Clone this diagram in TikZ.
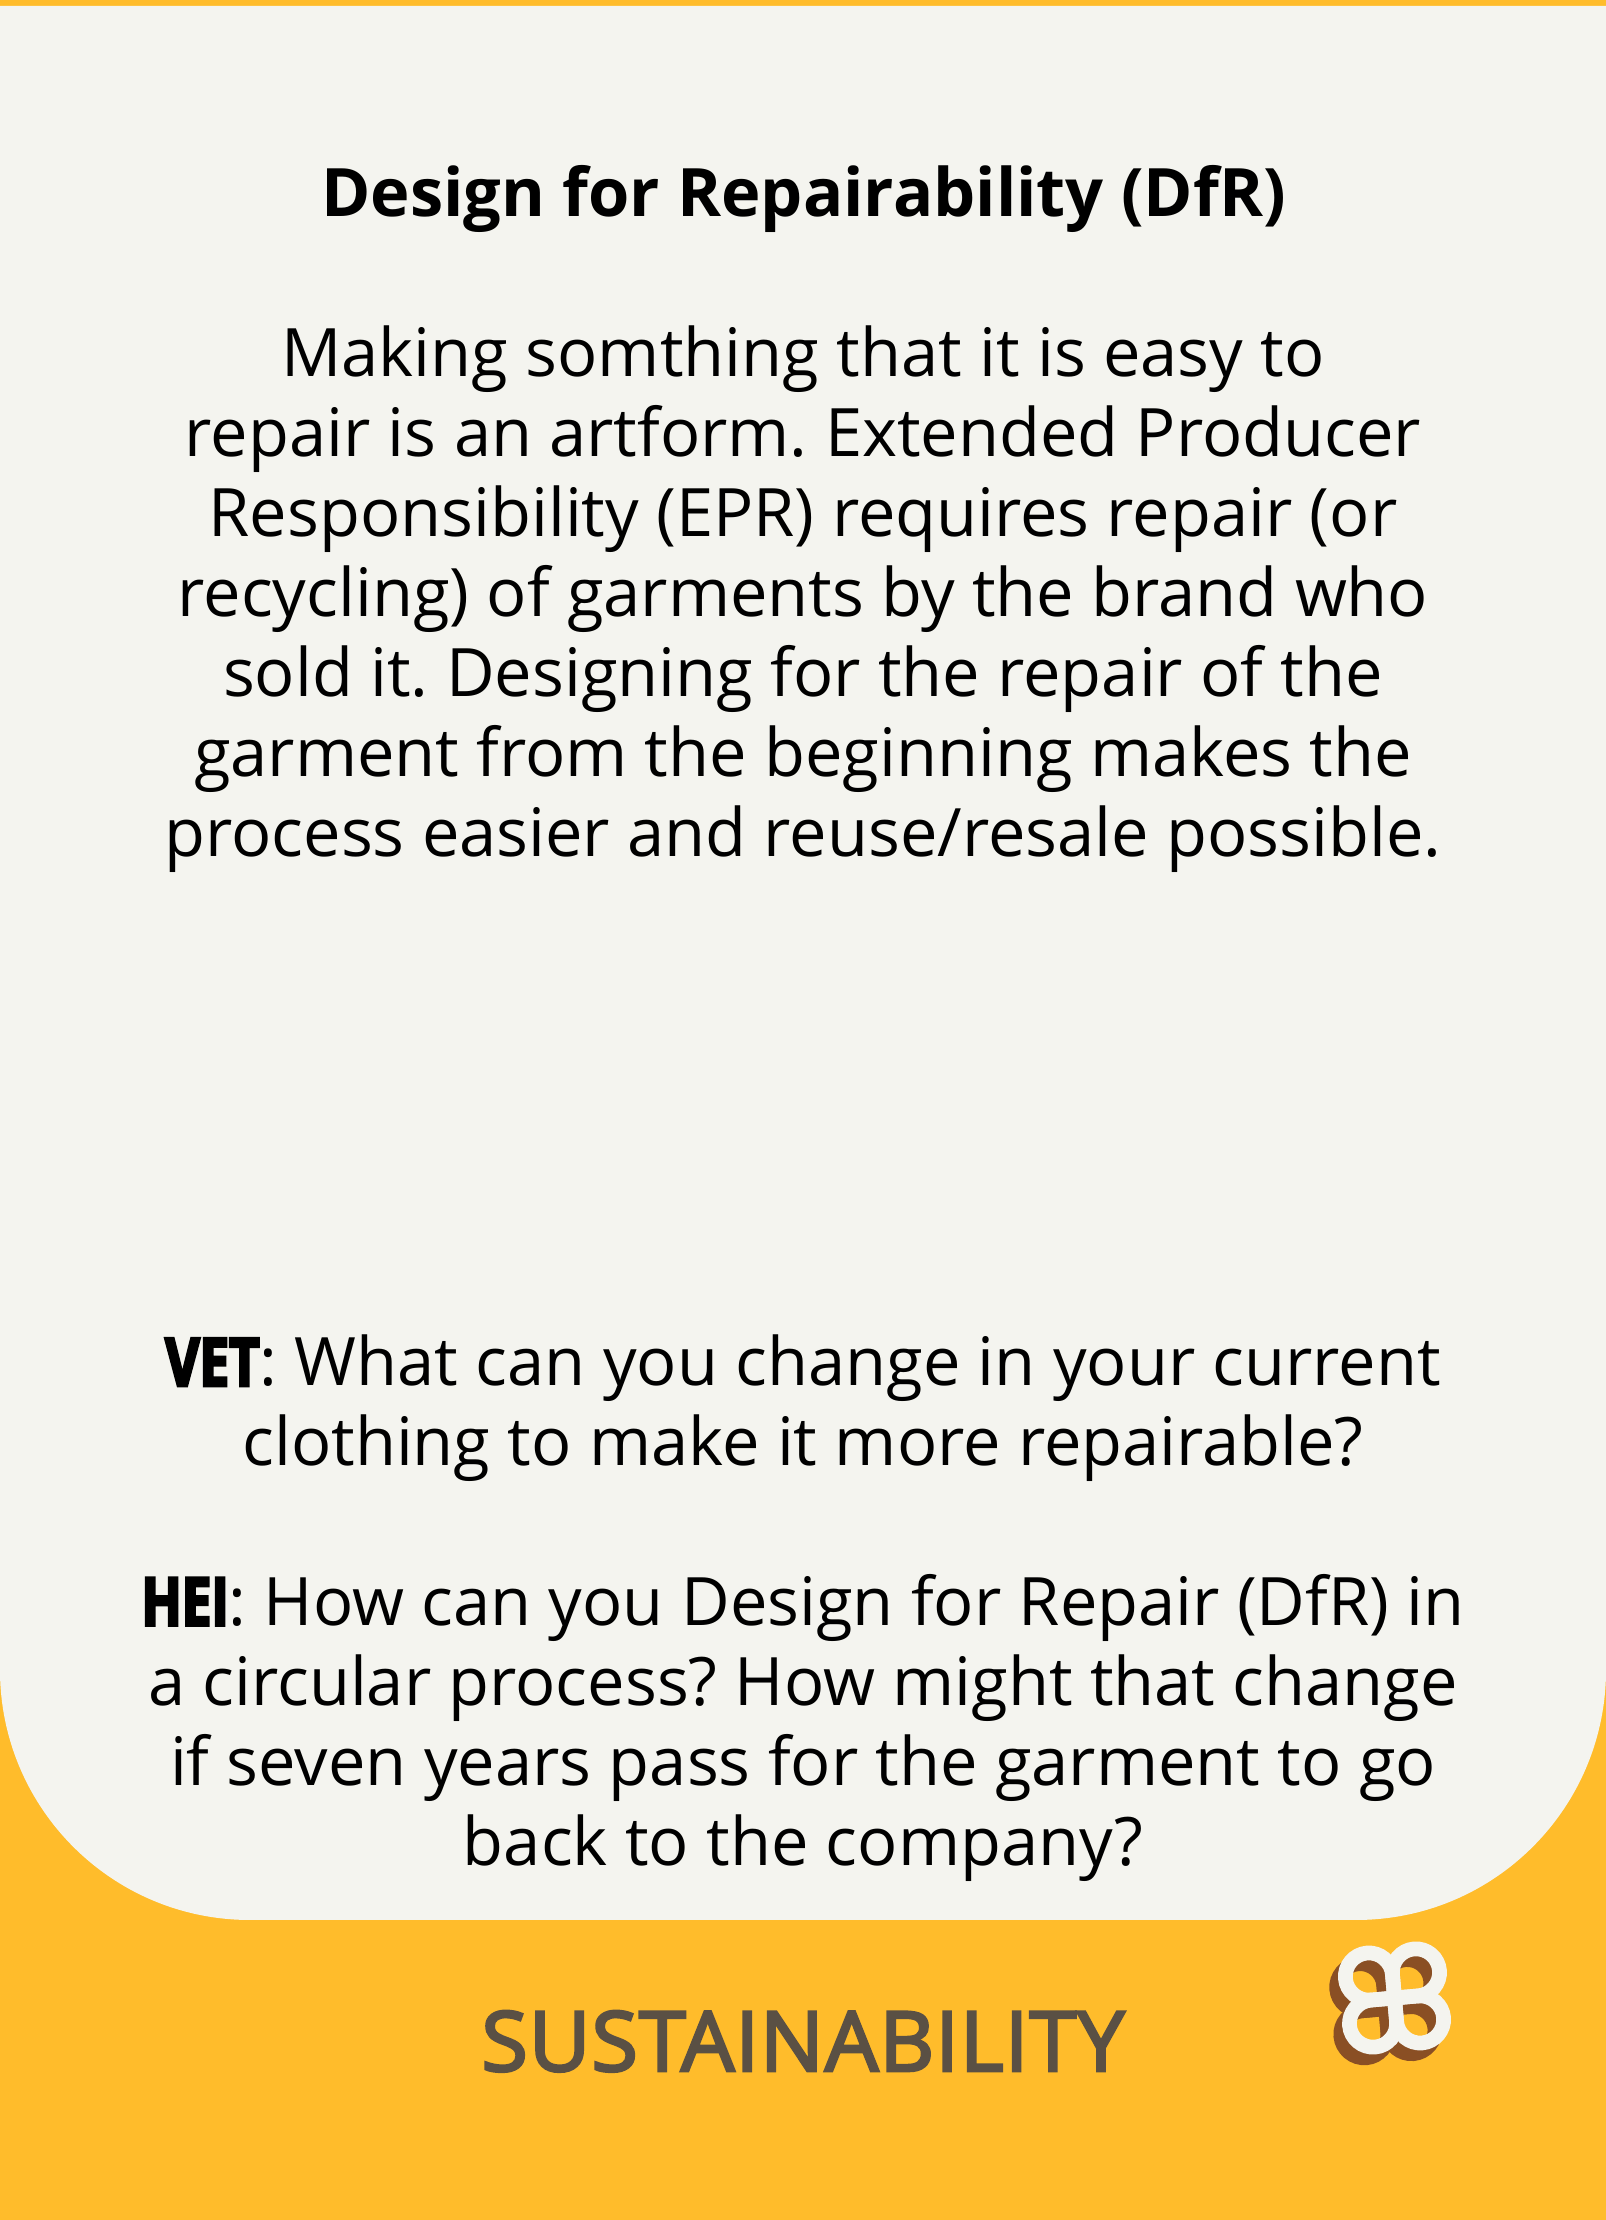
\documentclass[tikz,border=0pt]{standalone}
\usepackage{fontspec}
\setmainfont{Open Sans}
\newfontfamily\heavyfont[BoldFeatures={FakeStretch=0.79,FakeBold=4}]{Open Sans}
\newfontfamily\footfont[FakeStretch=1.02,FakeBold=3.2,LetterSpace=1.2]{Open Sans}
\definecolor{cardorange}{HTML}{FFBC2B}
\definecolor{cardpaper}{HTML}{F4F4EF}
\definecolor{cardbrown}{HTML}{8A4F24}
\definecolor{cardgrey}{HTML}{5A5044}
\frenchspacing
\begin{document}
\begin{tikzpicture}[x=1pt,y=1pt,
  bodyline/.style={anchor=base,inner sep=0pt,text=black,font=\fontsize{66.8}{80}\selectfont\frenchspacing},
  titleline/.style={anchor=base,inner sep=0pt,text=black,font=\fontsize{66.8}{80}\selectfont\bfseries},
  footline/.style={anchor=base,inner sep=0pt,text=cardgrey,font=\fontsize{83}{90}\selectfont\footfont},
  logoloop/.style={line width=14.7pt,line join=miter,miter limit=10}]
\useasboundingbox (0,0) rectangle (1606,2220);
\fill[cardorange] (0,0) rectangle (1606,2220);
\fill[cardpaper] (0,2214) -- (1606,2214) -- (1606,550) arc[start angle=0,end angle=-90,radius=250] -- (250,300) arc[start angle=-90,end angle=-180,radius=250] -- cycle;
\node[titleline] (title) at (803.5,2003) {Design for Repairability (DfR)};
\node[bodyline] (b1) at (803,1843.5) {Making somthing that it is easy to};
\node[bodyline] (b2) at (803,1763.5) {repair is an artform. Extended Producer};
\node[bodyline] (b3) at (803,1683.5) {Responsibility (EPR) requires repair (or};
\node[bodyline] (b4) at (803,1603.5) {recycling) of garments by the brand who};
\node[bodyline] (b5) at (803,1523.5) {sold it. Designing for the repair of the};
\node[bodyline] (b6) at (803,1443.5) {garment from the beginning makes the};
\node[bodyline] (b7) at (803,1363.5) {process easier and reuse/resale possible.};
\node[bodyline] (v1) at (803,834) {{\heavyfont\bfseries VET}: What can you change in your current};
\node[bodyline] (v2) at (803,754) {clothing to make it more repairable?};
\node[bodyline] (h1) at (803,594.5) {{\heavyfont\bfseries HEI}: How can you Design for Repair (DfR) in};
\node[bodyline] (h2) at (803,514.5) {a circular process? How might that change};
\node[bodyline] (h3) at (803,434.5) {if seven years pass for the garment to go};
\node[bodyline] (h4) at (803,354.5) {back to the company?};
\node[footline] (foot) at (803,149) {SUSTAINABILITY};
\foreach \dx/\dy/\col in {-8.7/-10.7/cardbrown,0/0/cardpaper}{
  \begin{scope}[shift={(1394.5+\dx,222+\dy)},rotate=5]
    \foreach \r in {0,90,180,270}{
      \draw[logoloop,draw=\col,rotate=\r] (0,0) -- (0,23.6) arc[start angle=180,end angle=-90,radius=23.6] -- cycle;
    }
  \end{scope}
}
\end{tikzpicture}
\end{document}
